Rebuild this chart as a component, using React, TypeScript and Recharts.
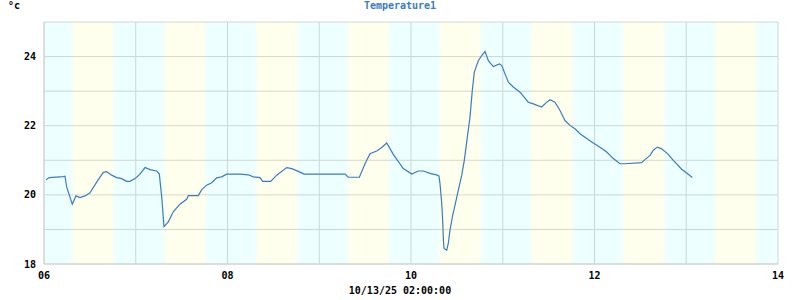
import React from 'react';
import { LineChart, Line, XAxis, YAxis, CartesianGrid, ReferenceArea, Label } from 'recharts';

// time of day in hours (decimal)
const times: number[] = [
  6.022, 6.058, 6.21, 6.229, 6.247, 6.308, 6.349, 6.392, 6.447, 6.501, 6.574, 6.646, 6.683, 6.738, 6.792,
  6.847, 6.901, 6.937, 6.992, 7.046, 7.101, 7.155, 7.228, 7.257, 7.283, 7.308, 7.355, 7.409, 7.482, 7.555,
  7.573, 7.682, 7.719, 7.773, 7.828, 7.882, 7.937, 7.991, 8.136, 8.227, 8.281, 8.354, 8.384, 8.471, 8.536,
  8.645, 8.7, 8.772, 8.834, 9.281, 9.317, 9.437, 9.499, 9.553, 9.626, 9.681, 9.735, 9.807, 9.916, 10.008,
  10.08, 10.134, 10.207, 10.287, 10.305, 10.316, 10.335, 10.346, 10.352, 10.36, 10.389, 10.407, 10.425, 10.454, 10.48,
  10.515, 10.553, 10.581, 10.614, 10.643, 10.668, 10.69, 10.734, 10.771, 10.807, 10.843, 10.897, 10.963, 10.989, 11.025,
  11.061, 11.115, 11.188, 11.278, 11.333, 11.425, 11.471, 11.515, 11.569, 11.624, 11.678, 11.733, 11.787, 11.842, 11.915,
  11.987, 12.06, 12.133, 12.205, 12.278, 12.332, 12.514, 12.55, 12.605, 12.641, 12.684, 12.732, 12.804, 12.859, 12.95,
  13.005, 13.066,
];

const temperature1: number[] = [
  20.44, 20.5, 20.53, 20.54, 20.23, 19.73, 19.97, 19.92, 19.97, 20.06, 20.37, 20.65, 20.67, 20.57, 20.5,
  20.47, 20.39, 20.39, 20.47, 20.6, 20.79, 20.73, 20.69, 20.6, 19.94, 19.08, 19.22, 19.51, 19.73, 19.87,
  19.98, 19.98, 20.15, 20.28, 20.35, 20.49, 20.52, 20.6, 20.6, 20.58, 20.52, 20.5, 20.39, 20.39, 20.57,
  20.79, 20.76, 20.68, 20.6, 20.6, 20.51, 20.51, 20.9, 21.19, 21.27, 21.37, 21.5, 21.17, 20.76, 20.6,
  20.69, 20.69, 20.62, 20.57, 20.54, 20.33, 19.75, 19.22, 18.74, 18.45, 18.4, 18.6, 18.98, 19.41, 19.7,
  20.13, 20.57, 21.0, 21.67, 22.25, 23.02, 23.55, 23.88, 24.03, 24.15, 23.88, 23.71, 23.79, 23.74, 23.5,
  23.26, 23.12, 22.97, 22.68, 22.63, 22.54, 22.66, 22.75, 22.68, 22.44, 22.15, 22.01, 21.91, 21.77, 21.63,
  21.5, 21.38, 21.24, 21.05, 20.9, 20.9, 20.93, 21.02, 21.14, 21.29, 21.38, 21.33, 21.17, 21.0, 20.74,
  20.63, 20.5,
];

const xTicks: number[] = [6, 7, 8, 9, 10, 11, 12, 13, 14];
const yTicks: number[] = [18, 19, 20, 21, 22, 23, 24, 25];
const bandHours: number[] = [6, 7, 8, 9, 10, 11, 12, 13];

const title = 'Temperature1';
const unit = '°c';
const xTitle = '10/13/25 02:00:00';

const data = times.map((t, i) => ({ t, v: temperature1[i] }));

const X_MIN = 6;
const X_MAX = 14;
const Y_START = 0.29;
const Y_END = 0.78;

const font = '"DejaVu Sans Mono", monospace';

export default function App() {
  const cyanAreas: { a: number; b: number }[] = [];
  cyanAreas.push({ a: X_MIN, b: X_MIN + Y_START });
  bandHours.forEach((h) => {
    const a = h + Y_END;
    const b = Math.min(X_MAX, h + 1 + Y_START);
    if (a < X_MAX) cyanAreas.push({ a, b });
  });
  return (
    <div style={{ position: 'absolute', left: 0, top: 0, width: 800, height: 300, background: '#fff' }}>
      <div style={{ position: 'absolute', left: 0, top: 0, width: 800, lineHeight: '12px', textAlign: 'center', fontFamily: font, fontWeight: 'bold', fontSize: 10, color: '#3a7cbd' }}>
        {title}
      </div>
      <div style={{ position: 'absolute', left: 8, top: 0, lineHeight: '12px', fontFamily: font, fontWeight: 'bold', fontSize: 10, color: '#000' }}>
        {unit}
      </div>
      <LineChart width={800} height={300} data={data} margin={{ top: 22, right: 22, bottom: 0, left: 0 }}>
        <defs>
          <linearGradient id="gy" x1="0" y1="0" x2="1" y2="0">
            <stop offset="0" stopColor="#00ffff" stopOpacity={0.067} />
            <stop offset="0.09" stopColor="#ffff00" stopOpacity={0.07} />
            <stop offset="0.91" stopColor="#ffff00" stopOpacity={0.07} />
            <stop offset="1" stopColor="#00ffff" stopOpacity={0.067} />
          </linearGradient>
        </defs>
        {cyanAreas.map((c, i) => (
          <ReferenceArea key={'c' + i} x1={c.a} x2={c.b} y1={18} y2={25} fill="#00ffff" fillOpacity={0.067} stroke="none" ifOverflow="visible" />
        ))}
        {bandHours.map((h) => (
          <ReferenceArea key={'y' + h} x1={h + Y_START} x2={h + Y_END} y1={18} y2={25} fill="url(#gy)" fillOpacity={1} stroke="none" ifOverflow="visible" />
        ))}
        <CartesianGrid stroke="#d6d6d6" strokeWidth={1} />
        <XAxis
          dataKey="t"
          type="number"
          domain={[X_MIN, X_MAX]}
          ticks={xTicks}
          interval={0}
          tickLine={false}
          axisLine={{ stroke: '#d0d0d0' }}
          height={36}
          tick={{ fill: '#000', fontFamily: font, fontWeight: 'bold', fontSize: 10 }}
          tickFormatter={(v: number) => (v % 2 === 0 ? String(v).padStart(2, '0') : '')}
        >
          <Label value={xTitle} position="insideBottom" offset={6} dx={-11} style={{ fill: '#000', fontFamily: font, fontWeight: 'bold', fontSize: 10 }} />
        </XAxis>
        <YAxis
          type="number"
          domain={[18, 25]}
          ticks={yTicks}
          interval={0}
          width={44}
          tickLine={false}
          axisLine={{ stroke: '#d0d0d0' }}
          tick={{ fill: '#000', fontFamily: font, fontWeight: 'bold', fontSize: 10 }}
          tickFormatter={(v: number) => (v % 2 === 0 ? String(v) : '')}
        />
        <Line type="linear" dataKey="v" stroke="#3a7cbd" strokeWidth={1.2} dot={false} isAnimationActive={false} />
      </LineChart>
    </div>
  );
}
